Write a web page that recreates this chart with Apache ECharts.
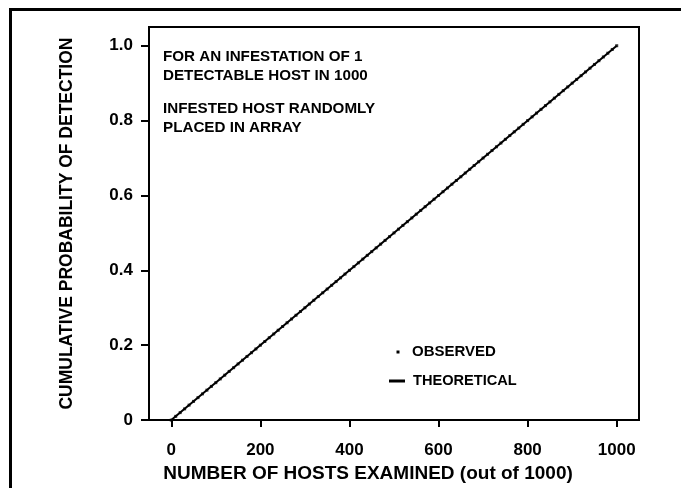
<!DOCTYPE html>
<html>
<head>
<meta charset="utf-8">
<script src="https://cdn.jsdelivr.net/npm/echarts@6/dist/echarts.min.js"></script>
<style>html,body{margin:0;padding:0;background:#fff;}#c{width:681px;height:488px;}</style>
</head>
<body>
<div id="c"></div>
<script>
var xTicks = [0, 200, 400, 600, 800, 1000];
var yTicks = [0, 0.2, 0.4, 0.6, 0.8, 1.0];
var theoX = [0, 1000];
var theoY = [0, 1.0];
var obsX = [0,10,20,30,40,50,60,70,80,90,100,110,120,130,140,150,160,170,180,190,200,210,220,230,240,250,260,270,280,290,300,310,320,330,340,350,360,370,380,390,400,410,420,430,440,450,460,470,480,490,500,510,520,530,540,550,560,570,580,590,600,610,620,630,640,650,660,670,680,690,700,710,720,730,740,750,760,770,780,790,800,810,820,830,840,850,860,870,880,890,900,910,920,930,940,950,960,970,980,990,1000];
var obsY = [0.000,0.010,0.020,0.030,0.040,0.050,0.060,0.070,0.080,0.090,0.100,0.110,0.120,0.130,0.140,0.150,0.160,0.170,0.180,0.190,0.200,0.210,0.220,0.230,0.240,0.250,0.260,0.270,0.280,0.290,0.300,0.310,0.320,0.330,0.340,0.350,0.360,0.370,0.380,0.390,0.400,0.410,0.420,0.430,0.440,0.450,0.460,0.470,0.480,0.490,0.500,0.510,0.520,0.530,0.540,0.550,0.560,0.570,0.580,0.590,0.600,0.610,0.620,0.630,0.640,0.650,0.660,0.670,0.680,0.690,0.700,0.710,0.720,0.730,0.740,0.750,0.760,0.770,0.780,0.790,0.800,0.810,0.820,0.830,0.840,0.850,0.860,0.870,0.880,0.890,0.900,0.910,0.920,0.930,0.940,0.950,0.960,0.970,0.980,0.990,1.000];
var noteLines = ['FOR AN INFESTATION OF 1', 'DETECTABLE HOST IN 1000', 'INFESTED HOST RANDOMLY', 'PLACED IN ARRAY'];
var legendNames = ['OBSERVED', 'THEORETICAL'];
var xTitle = 'NUMBER OF HOSTS EXAMINED (out of 1000)';
var yTitle = 'CUMULATIVE PROBABILITY OF DETECTION';

var FONT = '"Liberation Sans", Arial, sans-serif';
var chart = echarts.init(document.getElementById('c'), null, {renderer: 'canvas'});

function pairs(xs, ys) { return xs.map(function (x, i) { return [x, ys[i]]; }); }

var noteY = [57, 76, 109, 128];
var graphics = [
  {type: 'line', shape: {x1: 10, y1: 9.5, x2: 681, y2: 9.5}, style: {stroke: '#000', lineWidth: 3}},
  {type: 'line', shape: {x1: 10.5, y1: 8, x2: 10.5, y2: 488}, style: {stroke: '#000', lineWidth: 3}},
  {type: 'rect', shape: {x: 396.5, y: 350.5, width: 3, height: 3}, style: {fill: '#000'}},
  {type: 'text', x: 412, y: 352, style: {text: legendNames[0], font: 'bold 15px ' + FONT, fill: '#000', verticalAlign: 'middle'}},
  {type: 'line', shape: {x1: 389, y1: 381, x2: 405, y2: 381}, style: {stroke: '#000', lineWidth: 3}},
  {type: 'text', x: 413, y: 381, style: {text: legendNames[1], font: 'bold 14.6px ' + FONT, fill: '#000', verticalAlign: 'middle'}}
];
noteLines.forEach(function (t, i) {
  graphics.push({type: 'text', x: 163, y: noteY[i], style: {text: t, font: 'bold 15.2px ' + FONT, fill: '#000', verticalAlign: 'middle'}});
});

chart.setOption({
  animation: false,
  backgroundColor: '#fff',
  grid: {left: 149, right: 42, top: 27, bottom: 66, show: true, borderColor: '#000', borderWidth: 2, containLabel: false},
  xAxis: {
    type: 'value', min: -50, max: 1050,
    name: xTitle, nameLocation: 'middle', nameGap: 38,
    nameTextStyle: {fontFamily: FONT, fontWeight: 'bold', fontSize: 19, color: '#000', padding: [0, 52, 0, 0]},
    axisLine: {show: true, onZero: false, lineStyle: {color: '#000', width: 2}},
    axisTick: {show: true, length: 7, lineStyle: {color: '#000', width: 2}, customValues: xTicks},
    axisLabel: {customValues: xTicks, margin: 22, fontFamily: FONT, fontWeight: 'bold', fontSize: 17, color: '#000',
      formatter: function (v) { return String(v); }},
    splitLine: {show: false}
  },
  yAxis: {
    type: 'value', min: 0, max: 1.05,
    name: yTitle, nameLocation: 'middle', nameGap: 73, nameRotate: 90,
    nameTextStyle: {fontFamily: FONT, fontWeight: 'bold', fontSize: 17.5, color: '#000'},
    axisLine: {show: true, onZero: false, lineStyle: {color: '#000', width: 2}},
    axisTick: {show: true, length: 8, lineStyle: {color: '#000', width: 2}, customValues: yTicks},
    axisLabel: {customValues: yTicks, margin: 16, fontFamily: FONT, fontWeight: 'bold', fontSize: 17, color: '#000',
      formatter: function (v) { return v === 0 ? '0' : v.toFixed(1); }},
    splitLine: {show: false}
  },
  series: [
    {name: legendNames[1], type: 'line', data: pairs(theoX, theoY), symbol: 'none',
      lineStyle: {color: '#000', width: 2}, z: 2},
    {name: legendNames[0], type: 'scatter', data: pairs(obsX, obsY), symbol: 'rect', symbolSize: 3,
      itemStyle: {color: '#000'}, z: 3}
  ],
  graphic: graphics
});
</script>
</body>
</html>
